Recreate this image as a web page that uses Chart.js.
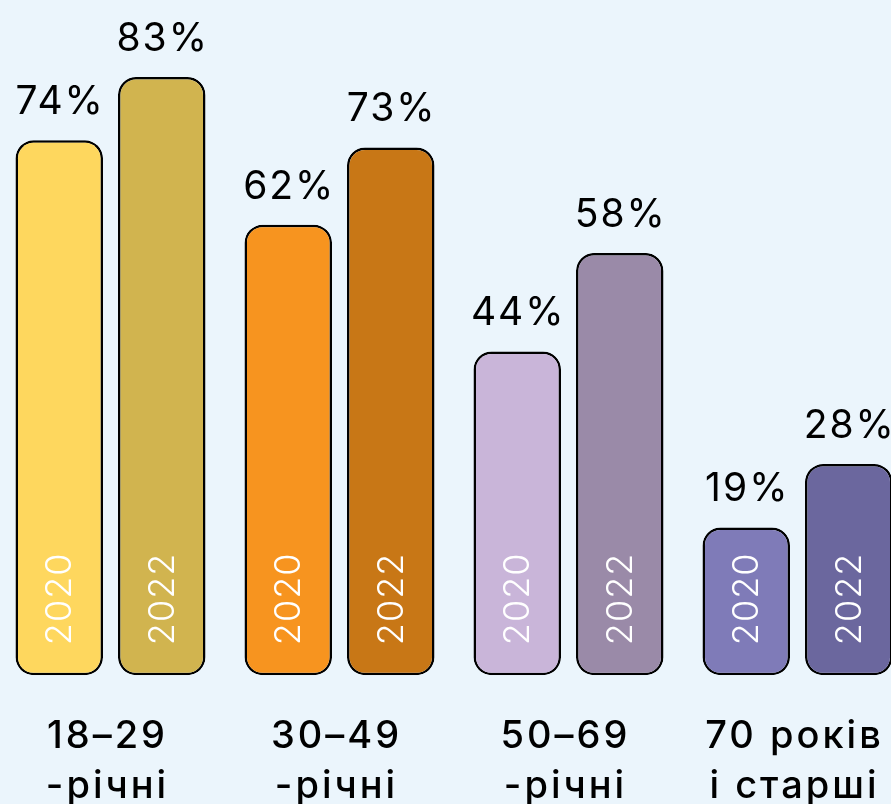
<!DOCTYPE html>
<html>
<head>
<meta charset="utf-8">
<script src="https://cdn.jsdelivr.net/npm/chart.js@4"></script>
<style>
  html, body { margin: 0; padding: 0; background: #EBF5FC; overflow: hidden; width: 891px; height: 804px; }
  #chart { position: absolute; left: -4px; top: 0; }
</style>
</head>
<body>
<canvas id="chart" width="916" height="848"></canvas>
<script>
// age groups, two lines each
const categories = [
  ['18–29', '-річні'],
  ['30–49', '-річні'],
  ['50–69', '-річні'],
  ['70 років', 'і старші']
];
const years = ['2020', '2022'];
const values2020 = [74, 62, 44, 19];
const values2022 = [83, 73, 58, 28];
const colors2020 = ['#FED75E', '#F7941F', '#C9B5D9', '#7F7BB8'];
const colors2022 = ['#D1B44F', '#C87716', '#9A8AA8', '#6B679E'];

const yMin = -2;

// wider letter spacing for the axis labels
const spacing = {
  id: 'spacing',
  beforeDraw(chart) { chart.ctx.letterSpacing = '3px'; },
  beforeDatasetsDraw(chart) { chart.ctx.letterSpacing = '0px'; }
};

// draws the % above each bar and the year inside it
const barLabels = {
  id: 'barLabels',
  afterDatasetsDraw(chart) {
    const ctx = chart.ctx;
    chart.data.datasets.forEach((ds, i) => {
      const meta = chart.getDatasetMeta(i);
      meta.data.forEach((bar, j) => {
        ctx.save();
        ctx.fillStyle = '#000';
        ctx.font = '400 39px Inter';
        ctx.letterSpacing = '2px';
        ctx.textAlign = 'center';
        ctx.textBaseline = 'alphabetic';
        ctx.fillText(ds.data[j] + '%', bar.x + 1, bar.y - 26);

        ctx.translate(bar.x, bar.base - 30);
        ctx.rotate(-Math.PI / 2);
        ctx.fillStyle = '#fff';
        ctx.font = '300 36px Inter';
        ctx.letterSpacing = '1px';
        ctx.textAlign = 'left';
        ctx.textBaseline = 'middle';
        ctx.fillText(ds.label, 0, 1);
        ctx.restore();
      });
    });
  }
};

new Chart(document.getElementById('chart'), {
  type: 'bar',
  data: {
    labels: categories,
    datasets: [
      { label: years[0], data: values2020, backgroundColor: colors2020 },
      { label: years[1], data: values2022, backgroundColor: colors2022 }
    ]
  },
  options: {
    responsive: false,
    animation: false,
    layout: { padding: { top: 20, left: 0, right: 0, bottom: 0 } },
    datasets: {
      bar: {
        base: yMin,
        borderColor: '#000',
        borderWidth: 2.5,
        borderRadius: 18,
        borderSkipped: false,
        categoryPercentage: 0.895,
        barPercentage: 0.854
      }
    },
    plugins: {
      legend: { display: false },
      tooltip: { enabled: false }
    },
    scales: {
      x: {
        grid: { display: false, drawTicks: false },
        border: { display: false },
        ticks: {
          color: '#000',
          padding: 37,
          labelOffset: -3,
          maxRotation: 0,
          autoSkip: false,
          font: { family: 'Inter', size: 38, weight: 500, lineHeight: 1.3 }
        }
      },
      y: {
        display: false,
        min: yMin,
        max: 91.1
      }
    }
  },
  plugins: [spacing, barLabels]
});
</script>
</body>
</html>
